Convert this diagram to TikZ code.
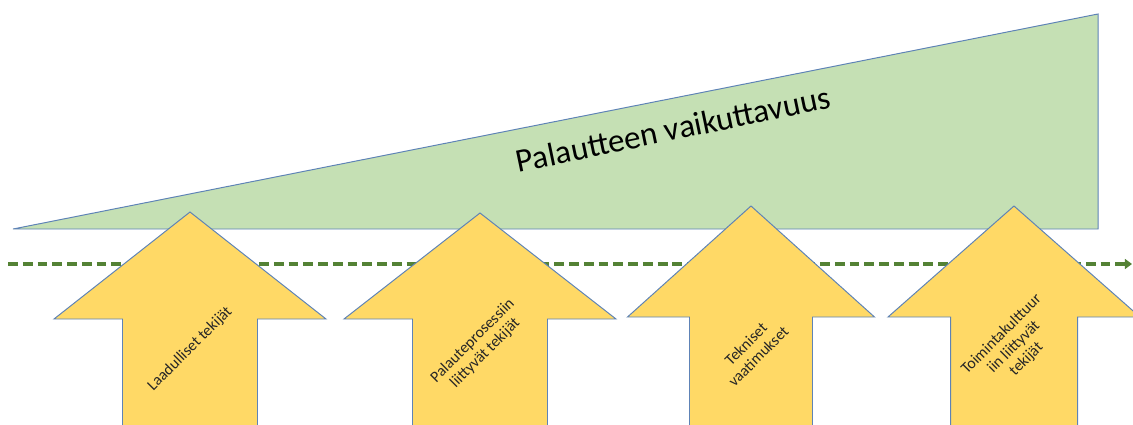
\documentclass[tikz,border=0pt]{standalone}
\usepackage{fontspec}
\setmainfont{Carlito}
\usetikzlibrary{arrows.meta}
\definecolor{wedgegreen}{RGB}{197,224,180}
\definecolor{edgeblue}{RGB}{94,131,182}
\definecolor{factoryellow}{RGB}{255,217,102}
\definecolor{linegreen}{RGB}{84,130,53}

\begin{document}
\begin{tikzpicture}[x=0.025cm,y=0.025cm,
    factor/.style={fill=factoryellow,draw=edgeblue,line width=0.7pt},
    flabel/.style={rotate=45,align=center,font=\fontsize{11.2}{12.5}\selectfont,text=black!85}]
  \useasboundingbox (0,0) rectangle (1133,424);
  \clip (0,0) rectangle (1133,424);
  % effectiveness wedge
  \draw[fill=wedgegreen,draw=edgeblue,line width=0.7pt] (13,195) -- (1098,410) -- (1098,195) -- cycle;
  \node[rotate=11.8,font=\fontsize{23.5}{28}\selectfont] (wedge) at (673,295) {Palautteen vaikuttavuus};
  % threshold line
  \coordinate (lineL) at (8,160);
  \coordinate (lineR) at (1132,160);
  \draw[line width=2.6pt,linegreen,dash pattern=on 7pt off 3.5pt,-{Triangle[length=5pt,width=7pt]}] (lineL) -- (lineR);
  % factor arrows: tip x / tip y / head half width / shaft half width / head base y
  \foreach \x/\t/\h/\s/\b in {190/212/136/67.5/105, 480/211/136/67.5/105, 751/218/123.5/61.5/107, 1014/218/126/63.5/107}
    \draw[factor] (\x-\s,-10) -- (\x-\s,\b) -- (\x-\h,\b) -- (\x,\t) -- (\x+\h,\b) -- (\x+\s,\b) -- (\x+\s,-10) -- cycle;
  \node[flabel] (quality) at (190,75) {Laadulliset tekijät};
  \node[flabel] (process) at (479,77) {Palauteprosessiin\\liittyvät tekijät};
  \node[flabel] (tech) at (752,74) {Tekniset\\vaatimukset};
  \node[flabel] (culture) at (1014,77) {Toimintakulttuur\\iin liittyvät\\tekijät};
\end{tikzpicture}
\end{document}
